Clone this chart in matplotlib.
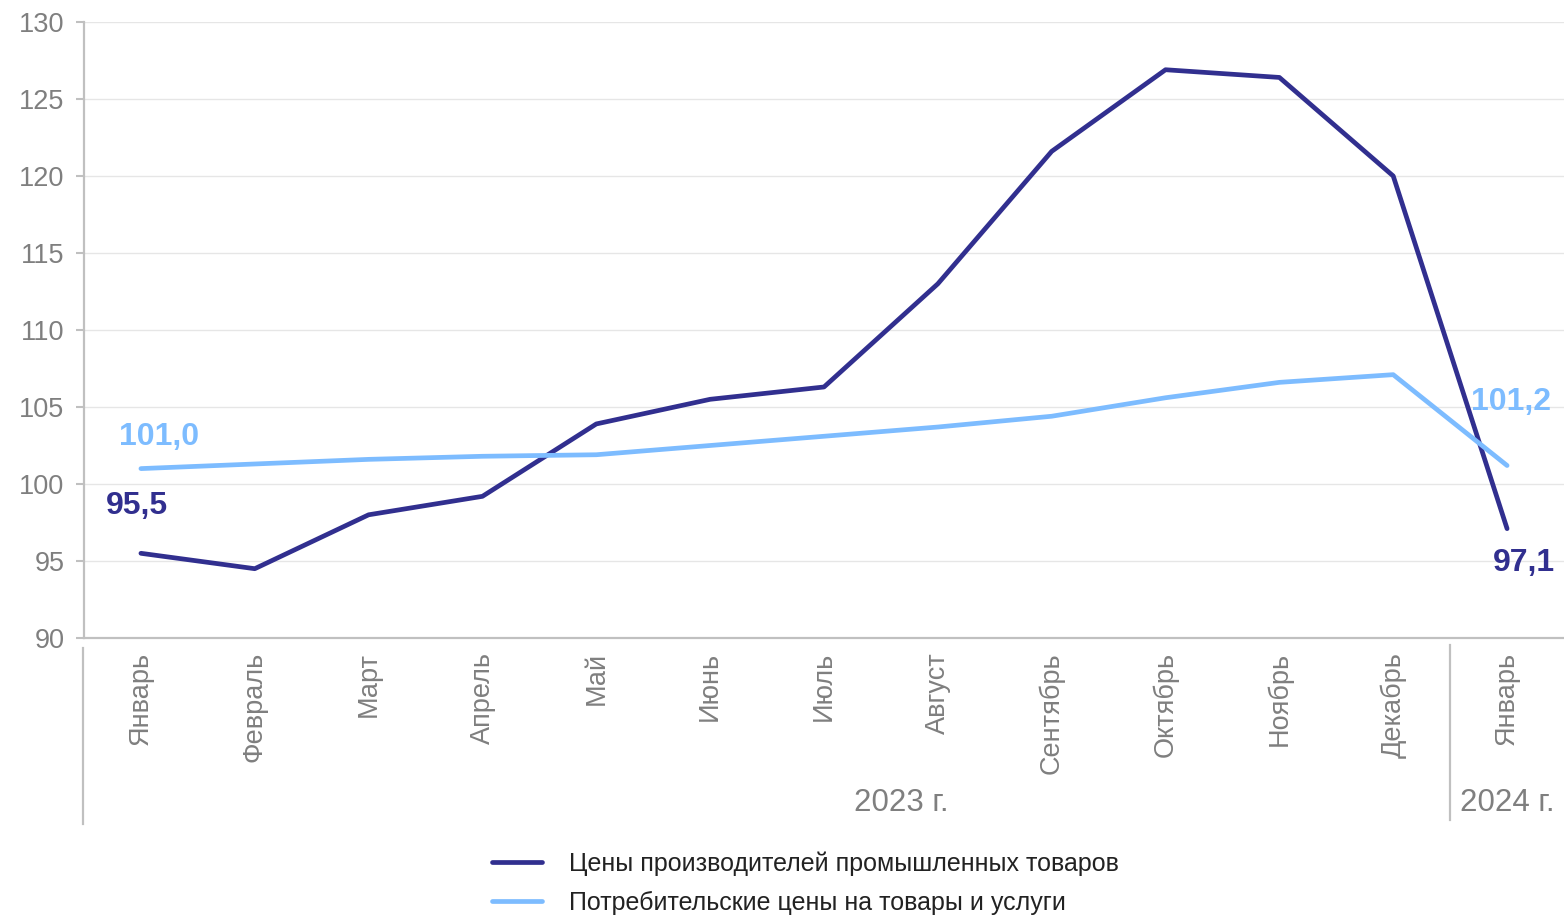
import matplotlib
matplotlib.use("Agg")
import matplotlib.pyplot as plt
import matplotlib.transforms as mtransforms

plt.rcParams["font.family"] = ["Liberation Sans", "DejaVu Sans"]

months = ["Январь", "Февраль", "Март", "Апрель", "Май", "Июнь", "Июль",
          "Август", "Сентябрь", "Октябрь", "Ноябрь", "Декабрь", "Январь"]
producer = [95.5, 94.5, 98.0, 99.2, 103.9, 105.5, 106.3, 113.0, 121.6, 126.9, 126.4, 120.0, 97.1]
consumer = [101.0, 101.3, 101.6, 101.8, 101.9, 102.5, 103.1, 103.7, 104.4, 105.6, 106.6, 107.1, 101.2]
years = ["2023 г.", "2024 г."]
series_names = ["Цены производителей промышленных товаров",
                "Потребительские цены на товары и услуги"]

DARK = "#312f8f"
LIGHT = "#7dbcff"
GRAY = "#7f7f7f"
AXC = "#c0c0c0"

fig = plt.figure(figsize=(15.64, 9.16), dpi=100)
ax = fig.add_axes([84 / 1564, 1 - 638 / 916, 1 - 84 / 1564, 616 / 916])

x = list(range(len(months)))
l1, = ax.plot(x, producer, color=DARK, lw=3.4, solid_capstyle="round", solid_joinstyle="round", clip_on=False)
l2, = ax.plot(x, consumer, color=LIGHT, lw=3.4, solid_capstyle="round", solid_joinstyle="round", clip_on=False)

ax.set_xlim(-0.5, len(months) - 0.5)
ax.set_ylim(90, 130)
ax.set_yticks(range(90, 131, 5))
ax.grid(axis="y", color="#e6e6e6", lw=1)
ax.set_axisbelow(True)
for s in ["top", "right"]:
    ax.spines[s].set_visible(False)
for s in ["left", "bottom"]:
    ax.spines[s].set_color(AXC)
    ax.spines[s].set_linewidth(1.6)
ax.tick_params(axis="y", colors=AXC, labelcolor=GRAY, labelsize=19.5, length=6, width=1.5, pad=8)
ax.set_xticks(x)
ax.set_xticklabels(months, rotation=90, va="top", ha="center")
ax.tick_params(axis="x", length=0, labelcolor=GRAY, labelsize=19.5, pad=10)

# category group separators below the axis
tr = mtransforms.blended_transform_factory(ax.transData, ax.transAxes)
ax.plot([-0.51, -0.51], [-0.016, -0.302], transform=tr, color=AXC, lw=1.6, clip_on=False)
ax.plot([11.5, 11.5], [-0.011, -0.295], transform=tr, color=AXC, lw=1.6, clip_on=False)
ax.text(6.68, -0.268, years[0], transform=tr, ha="center", va="center", fontsize=22.5, color=GRAY)
ax.text(12.0, -0.268, years[1], transform=tr, ha="center", va="center", fontsize=22.5, color=GRAY)

# value labels
lab = dict(fontsize=23, fontweight="bold", ha="center", va="center", annotation_clip=False)
ax.annotate(f"{consumer[0]:.1f}".replace(".", ","), (0, consumer[0]), xytext=(13, 23),
            textcoords="offset points", color=LIGHT, **lab)
ax.annotate(f"{producer[0]:.1f}".replace(".", ","), (0, producer[0]), xytext=(-3, 34),
            textcoords="offset points", color=DARK, **lab)
ax.annotate(f"{consumer[-1]:.1f}".replace(".", ","), (12, consumer[-1]), xytext=(3, 46),
            textcoords="offset points", color=LIGHT, **lab)
ax.annotate(f"{producer[-1]:.1f}".replace(".", ","), (12, producer[-1]), xytext=(12, -25),
            textcoords="offset points", color=DARK, **lab)

fig.legend([l1, l2], series_names, loc="center", bbox_to_anchor=(0.515, 0.036),
           frameon=False, handlelength=2.0, handletextpad=1.05, labelspacing=0.62,
           prop={"size": 18})
for t in fig.legends[0].get_texts():
    t.set_color("#222222")

fig.savefig("out.png", dpi=100)
